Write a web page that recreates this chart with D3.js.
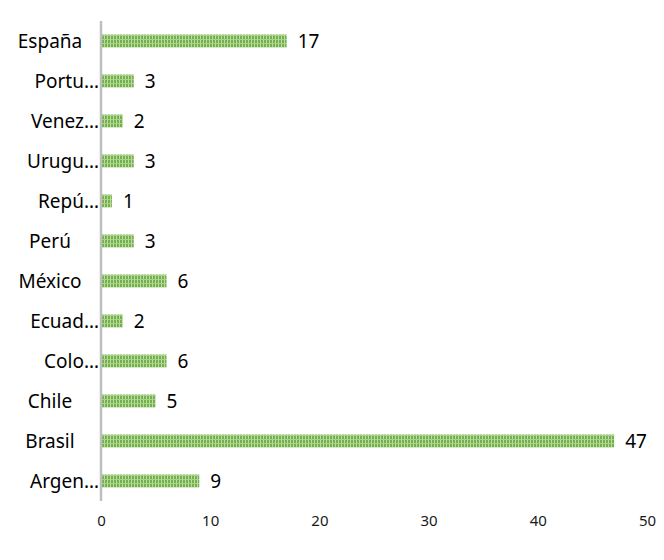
<!DOCTYPE html>
<html><head><meta charset="utf-8">
<script src="https://cdn.jsdelivr.net/npm/d3@7"></script>
<style>body{margin:0;background:#fff}svg{display:block}</style>
</head><body><div id="chart"></div>
<script>
const categories = ["España","Portugal","Venezuela","Uruguay","República Dominicana","Perú","México","Ecuador","Colombia","Chile","Brasil","Argentina"];
const shownLabels = ["España","Portu…","Venez…","Urugu…","Repú…","Perú","México","Ecuad…","Colo…","Chile","Brasil","Argen…"];
const values = [17,3,2,3,1,3,6,2,6,5,47,9];
const xTicks = [0,10,20,30,40,50];

const FONT = "'Noto Sans', 'Open Sans', sans-serif";
const W = 664, H = 560;
const svg = d3.select("#chart").append("svg").attr("width", W).attr("height", H);
const defs = svg.append("defs");
const pat = defs.append("pattern").attr("id","grid").attr("patternUnits","userSpaceOnUse")
  .attr("width",3).attr("height",4);
pat.append("rect").attr("width",3).attr("height",4).attr("fill","#74b14c");
pat.append("rect").attr("x",2).attr("width",1).attr("height",4).attr("fill","#bcdca4");
pat.append("rect").attr("y",3).attr("width",3).attr("height",1).attr("fill","#a9d38b");

const x = d3.scaleLinear().domain([0,50]).range([101,647]);
const y = d3.scaleBand().domain(categories).range([21,501]).paddingInner(0.675).paddingOuter(0.3375);

// bars
svg.selectAll("rect.bar").data(values).enter().append("rect").attr("class","bar")
  .attr("x", x(0)).attr("y",(d,i)=>y(categories[i]))
  .attr("width", d=>x(d)-x(0)).attr("height", y.bandwidth())
  .attr("fill","url(#grid)");

// axis line
svg.append("line").attr("x1",x(0)).attr("x2",x(0)).attr("y1",21).attr("y2",501)
  .attr("stroke","#bfbfbf").attr("stroke-width",2.5);

// value labels
svg.selectAll("text.val").data(values).enter().append("text").attr("class","val")
  .attr("x", d=>x(d)+11).attr("y",(d,i)=>y(categories[i])+y.bandwidth()/2)
  .attr("dy","0.36em").attr("font-family",FONT)
  .attr("font-size",19).attr("fill","#000").text(d=>d);

// category labels
svg.selectAll("text.cat").data(shownLabels).enter().append("text").attr("class","cat")
  .attr("x", d=> d.endsWith("…") ? 99 : 50)
  .attr("text-anchor", d=> d.endsWith("…") ? "end" : "middle")
  .attr("y",(d,i)=>y(categories[i])+y.bandwidth()/2)
  .attr("dy","0.36em").attr("font-family",FONT)
  .attr("font-size",19).attr("fill","#000").text(d=>d);

// x axis tick labels
const xa = svg.append("g").attr("transform","translate(0,521)")
  .call(d3.axisBottom(x).tickValues(xTicks).tickSize(0).tickPadding(0));
xa.select(".domain").remove();
xa.selectAll("text").attr("font-family",FONT)
  .attr("font-size",15).attr("fill","#1a1a1a").attr("dy","0.36em").attr("y",0);
</script></body></html>
